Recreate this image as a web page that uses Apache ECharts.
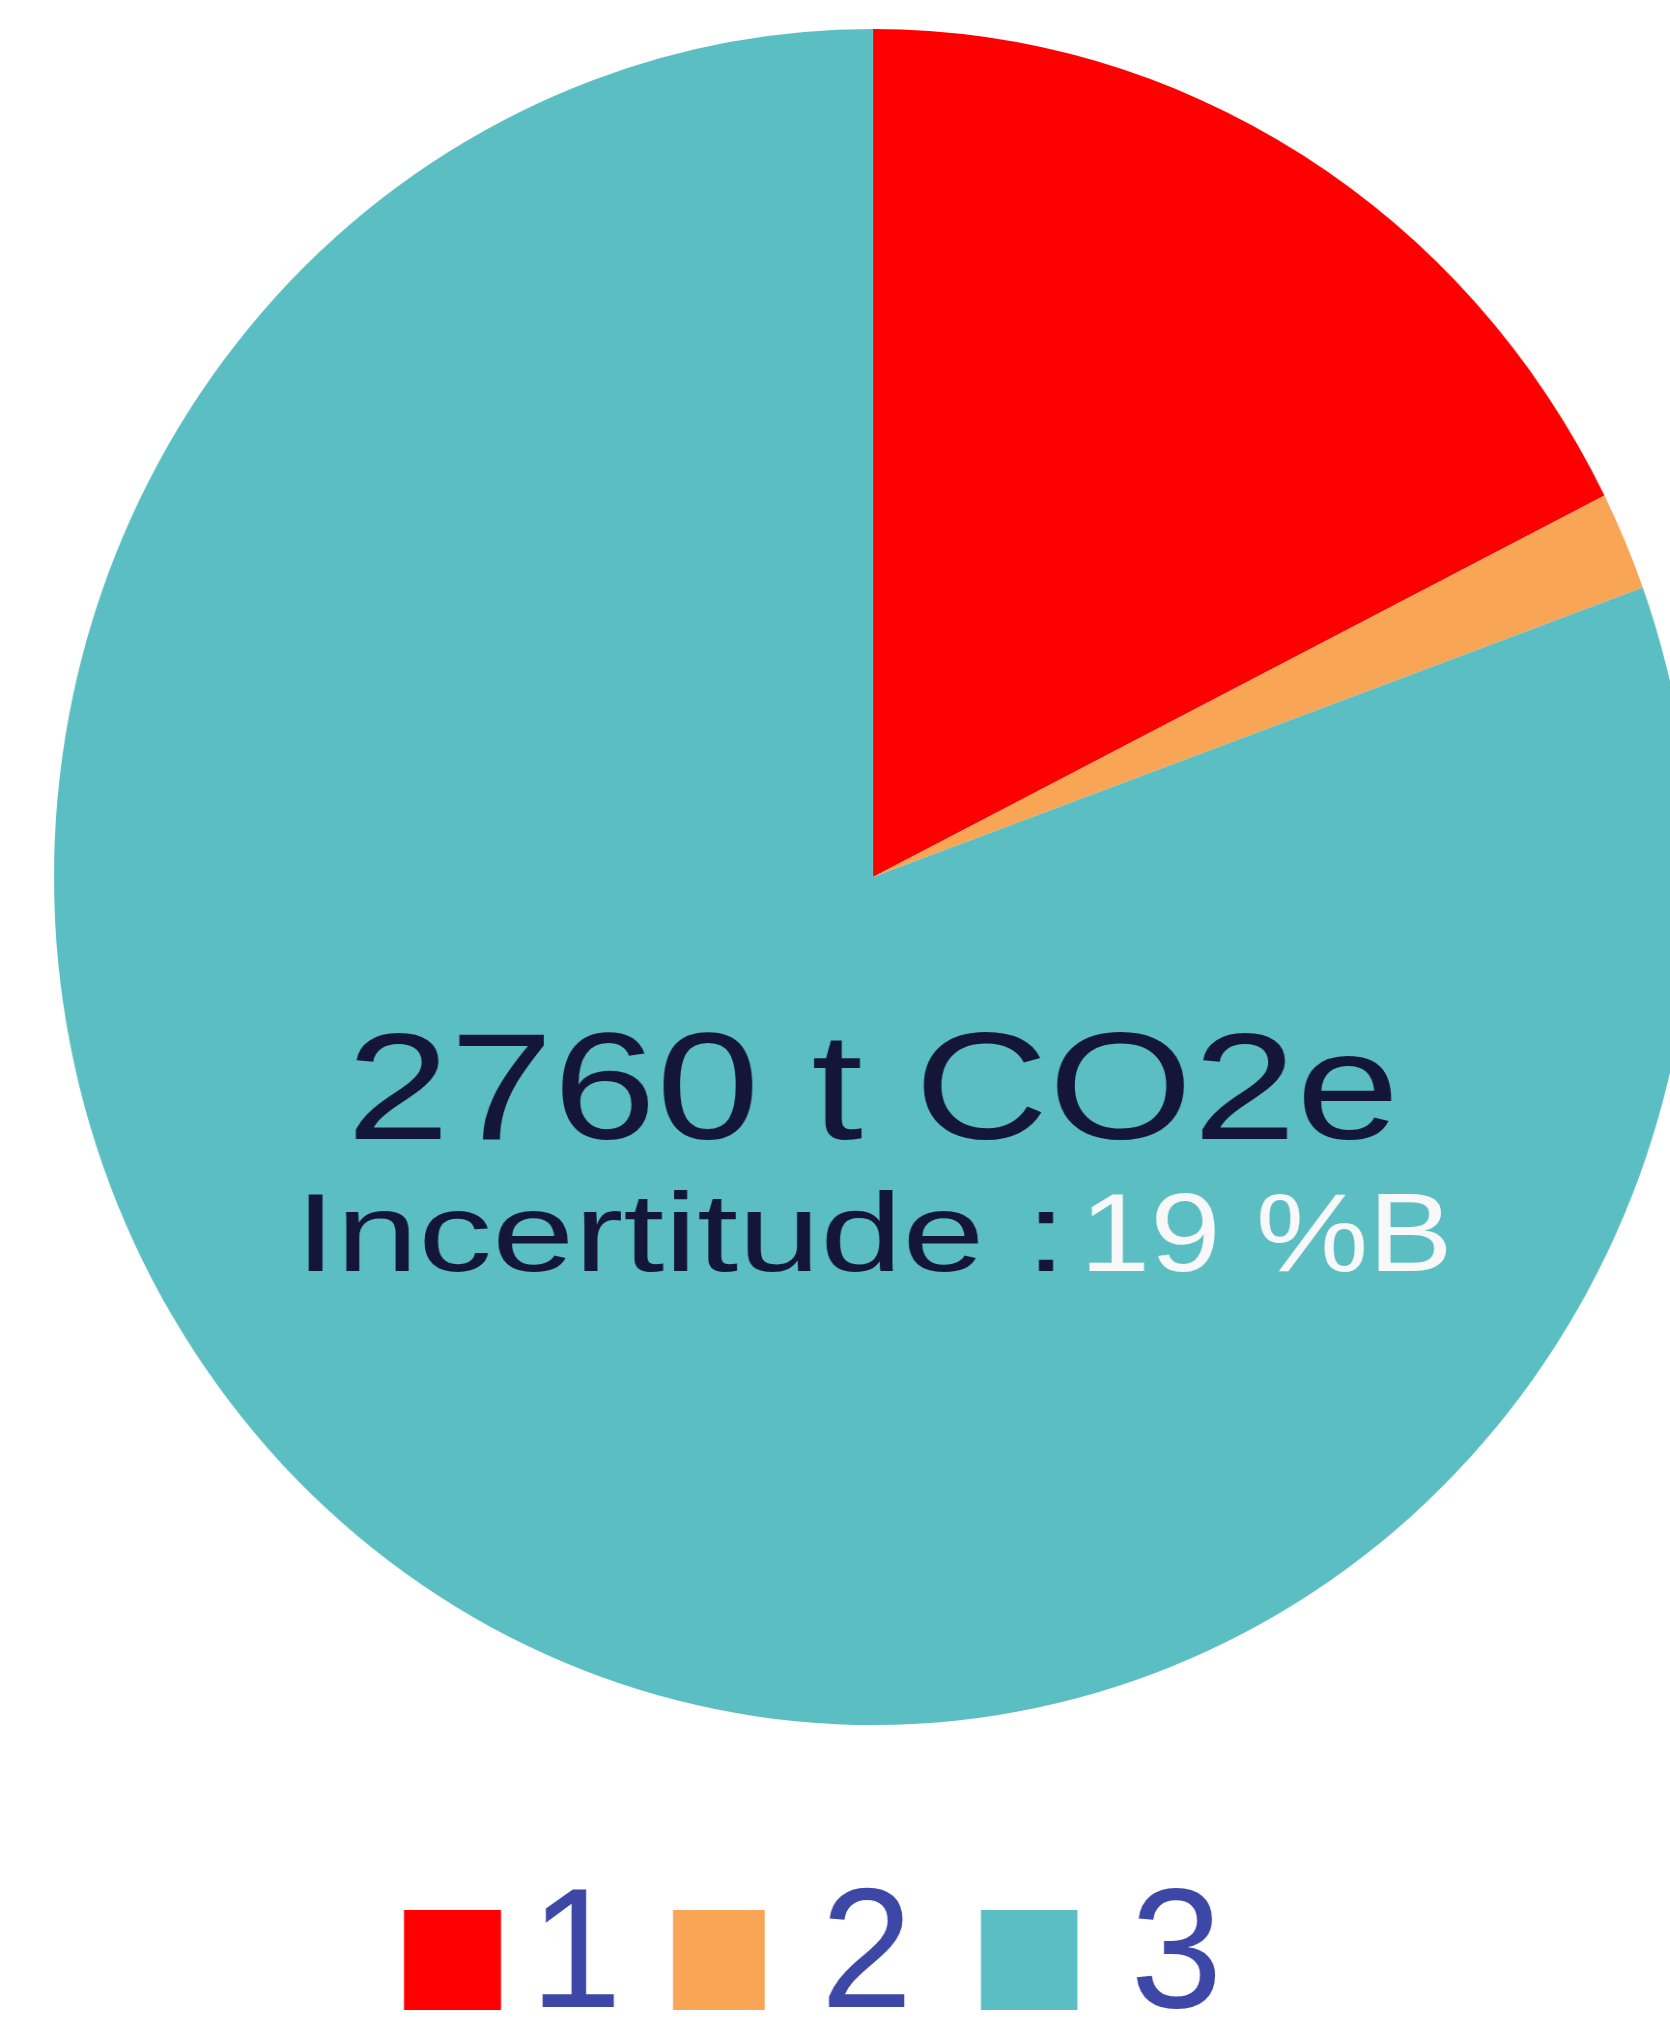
<!DOCTYPE html>
<html>
<head>
<meta charset="utf-8">
<script src="https://cdn.jsdelivr.net/npm/echarts@6/dist/echarts.min.js"></script>
<style>
html,body{margin:0;padding:0;background:#fff;overflow:hidden;width:1670px;height:2021px;}
#chart{width:1729px;height:2021px;transform:scaleX(0.9658);transform-origin:0 0;}
</style>
</head>
<body>
<div id="chart"></div>
<script>
// Data
const categories = ['1', '2', '3'];
const values = [485, 52, 2223];
const colors = ['#ff0000', '#f8a556', '#5bbec3'];
const totalLabel = '2760 t CO2e';
const uncertaintyLabel = 'Incertitude :';
const uncertaintyValue = '19 %B';

const chart = echarts.init(document.getElementById('chart'), null, {renderer: 'canvas'});

const legendLeft = [418.3, 696.8, 1015.7];
const legendIconW = [100.4, 95, 99.8];
const legendPad = [25, 53, 50];

const legends = categories.map((c, i) => ({
  show: true,
  data: [c],
  left: legendLeft[i],
  top: 1874.5,
  padding: 0,
  orient: 'horizontal',
  itemWidth: legendIconW[i],
  itemHeight: 100,
  icon: 'rect',
  selectedMode: false,
  textStyle: {
    color: '#3d47a6',
    fontSize: 171,
    fontFamily: 'Liberation Sans',
    padding: [0, 0, 0, legendPad[i]]
  }
}));

chart.setOption({
  animation: false,
  legend: legends,
  series: [{
    type: 'pie',
    center: [903.9, 877],
    radius: [0, 848],
    startAngle: 90,
    clockwise: true,
    label: {show: false},
    labelLine: {show: false},
    emphasis: {disabled: true},
    itemStyle: {borderWidth: 0, borderRadius: 0},
    data: categories.map((c, i) => ({
      name: c,
      value: values[i],
      itemStyle: {color: colors[i]}
    }))
  }],
  graphic: [
    {
      type: 'text',
      x: 903.9,
      y: 1097,
      z: 100,
      scaleX: 1.265,
      scaleY: 1,
      silent: true,
      style: {
        text: totalLabel,
        x: 0, y: 0,
        font: 'normal 152px "Liberation Sans"',
        fill: '#131636',
        align: 'center',
        verticalAlign: 'middle',
        textAlign: 'center',
        textVerticalAlign: 'middle'
      }
    },
    {
      type: 'text',
      x: 305.5,
      y: 1240,
      z: 100,
      scaleX: 1.365,
      scaleY: 1,
      silent: true,
      style: {
        text: uncertaintyLabel,
        x: 0, y: 0,
        font: 'normal 112px "Liberation Sans"',
        fill: '#131636',
        align: 'left',
        verticalAlign: 'middle',
        textAlign: 'left',
        textVerticalAlign: 'middle'
      }
    },
    {
      type: 'text',
      x: 1118,
      y: 1240,
      z: 100,
      scaleX: 1.17,
      scaleY: 1,
      silent: true,
      style: {
        text: uncertaintyValue,
        x: 0, y: 0,
        font: 'normal 112px "Liberation Sans"',
        fill: '#f8f8f8',
        align: 'left',
        verticalAlign: 'middle',
        textAlign: 'left',
        textVerticalAlign: 'middle'
      }
    }
  ]
});
</script>
</body>
</html>
